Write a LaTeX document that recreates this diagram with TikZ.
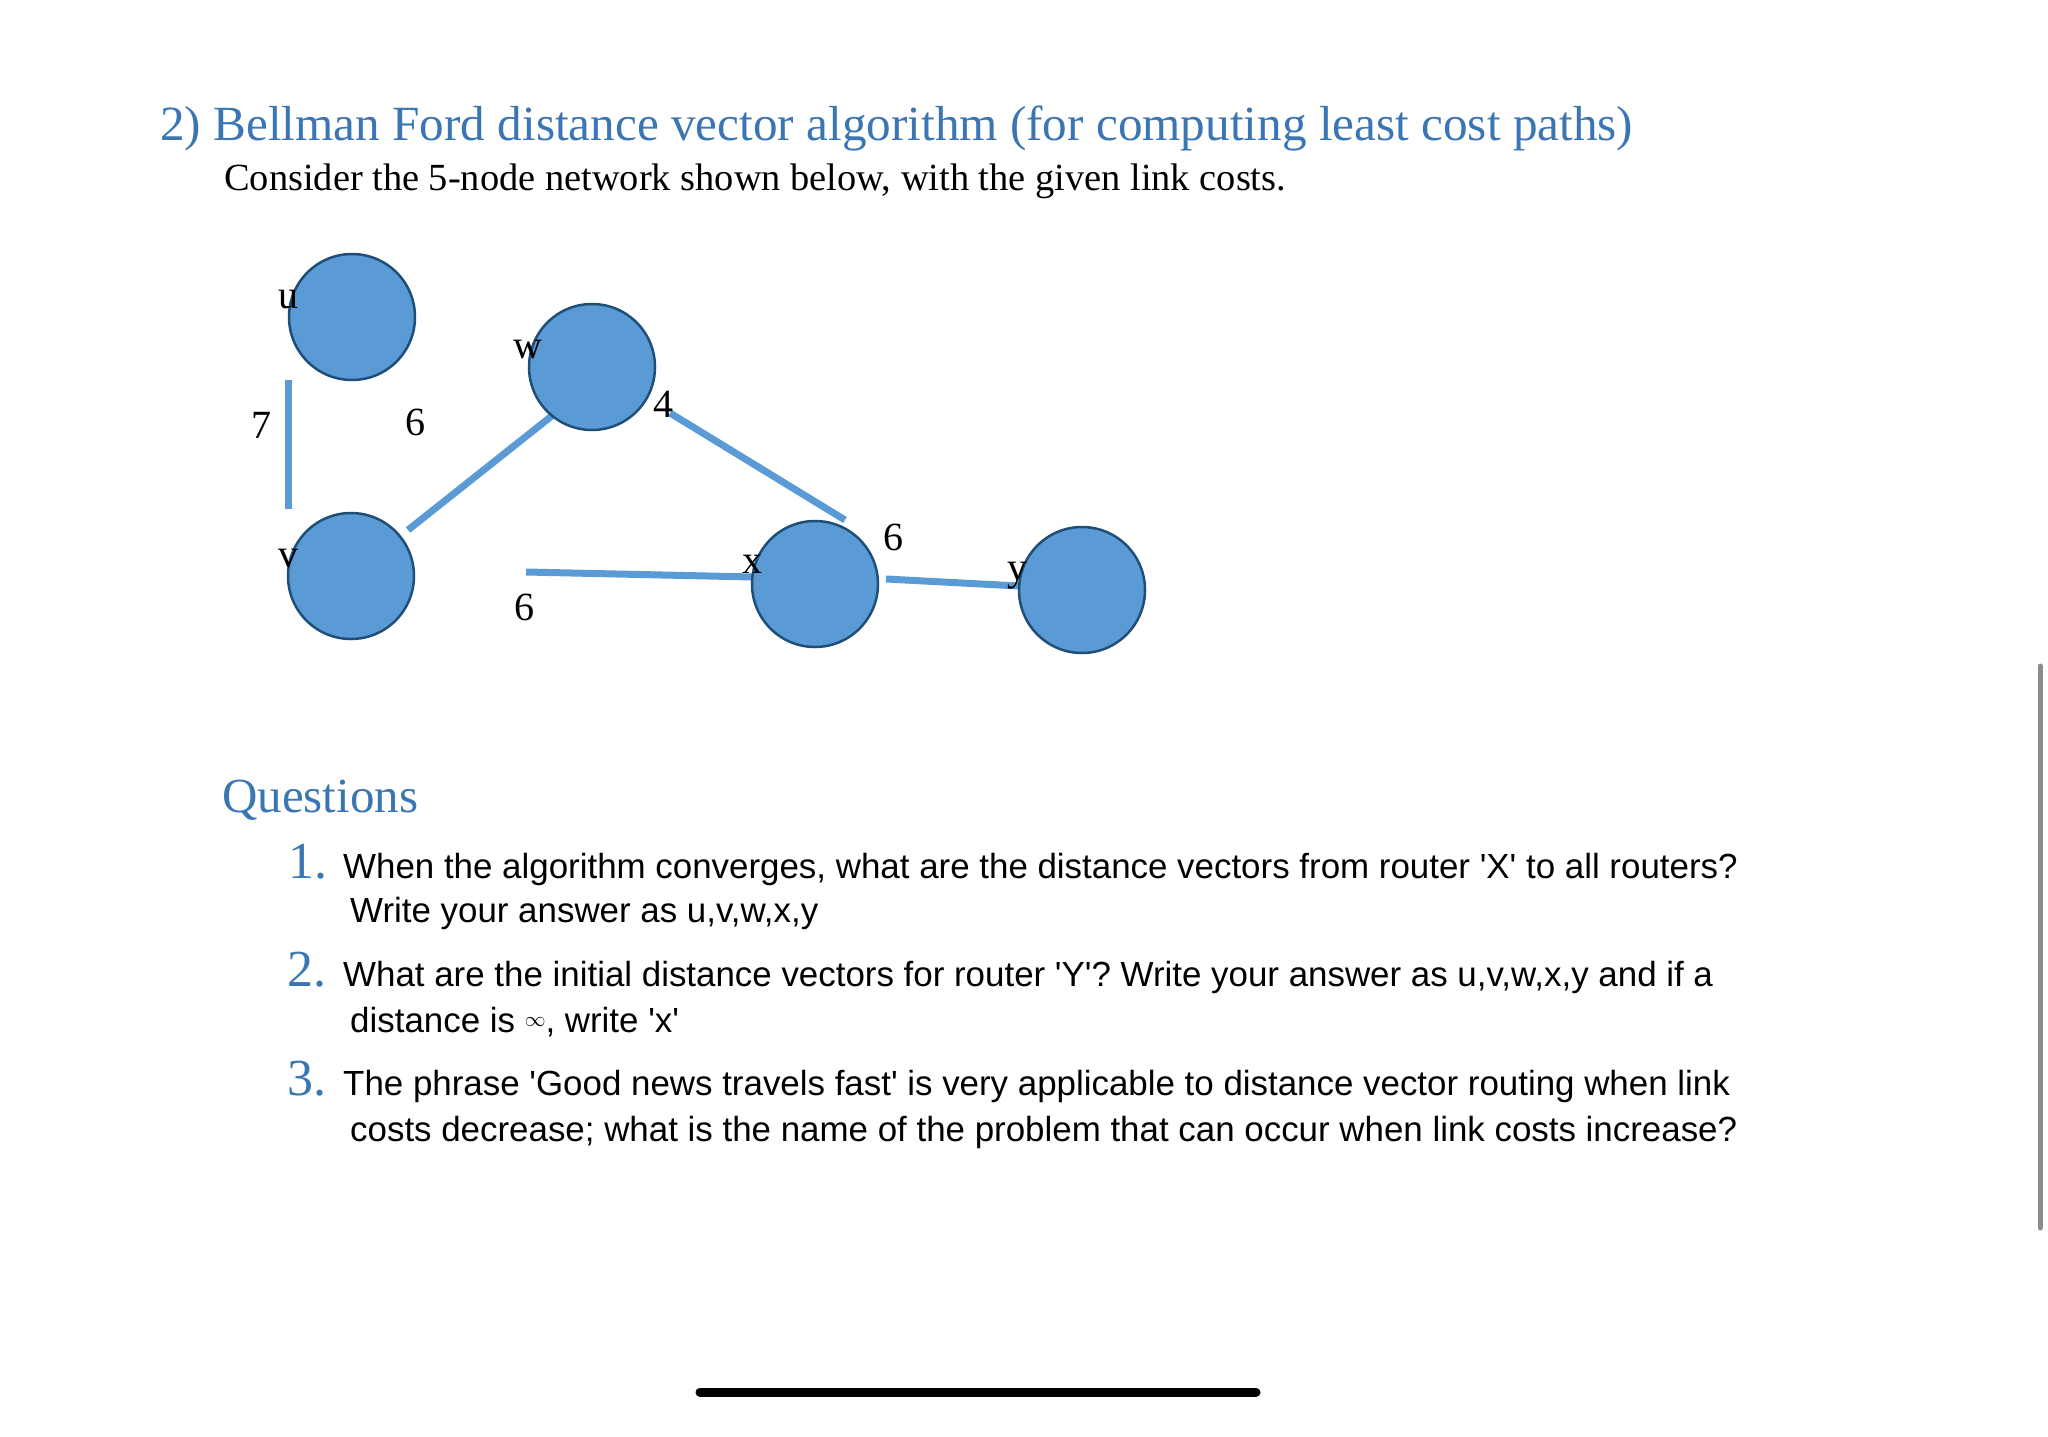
\documentclass[tikz,border=0pt]{standalone}
\usepackage{fontspec}
\setmainfont{Liberation Serif}
\newfontfamily\arialf{Liberation Sans}
\definecolor{hblue}{HTML}{3A76B3}
\definecolor{nfill}{HTML}{5B9BD5}
\definecolor{nline}{HTML}{1F4E79}
\definecolor{lblue}{HTML}{5B9BD5}
\tikzset{
  netnode/.style={circle, minimum size=126pt, inner sep=0pt, fill=nfill, draw=nline, line width=2.5pt},
  link/.style={draw=lblue, line width=7pt},
  lbl/.style={anchor=base, inner sep=0pt, font=\fontsize{40}{48}\selectfont},
  txt/.style={anchor=base west, inner sep=0pt},
  qnum/.style={anchor=base west, inner sep=0pt, text=hblue, font=\fontsize{52}{60}\selectfont},
  qtxt/.style={anchor=base west, inner sep=0pt, font=\arialf\fontsize{34.9}{40}\selectfont},
}
\begin{document}
\begin{tikzpicture}[x=1pt,y=-1pt]
\useasboundingbox[fill=white] (0,0) rectangle (2048,1437);
% title
\node[txt, text=hblue, font=\fontsize{49.2}{60}\selectfont] (title) at (160,140) {2) Bellman Ford distance vector algorithm (for computing least cost paths)};
\node[txt, font=\fontsize{38.4}{44}\selectfont] (sub) at (224,190) {Consider the 5-node network shown below, with the given link costs.};
% link end points
\coordinate (uvA) at (288,380); \coordinate (uvB) at (288,509);
\coordinate (vwA) at (408,530); \coordinate (vwB) at (553,415);
\coordinate (wxA) at (670,413); \coordinate (wxB) at (845,520);
\coordinate (vxA) at (526,572); \coordinate (vxB) at (753,577);
\coordinate (xyA) at (886,579); \coordinate (xyB) at (1019,586);
\draw[link] (uvA) -- (uvB);
\draw[link] (vwA) -- (vwB);
\draw[link] (wxA) -- (wxB);
\draw[link] (vxA) -- (vxB);
\draw[link] (xyA) -- (xyB);
% nodes
\node[netnode] (u) at (352,317) {};
\node[netnode] (w) at (592,367) {};
\node[netnode] (v) at (351,576) {};
\node[netnode] (x) at (815,584) {};
\node[netnode] (y) at (1082,590) {};
% labels
\node[lbl] (lu) at (288,308) {u};
\node[lbl] (lw) at (528,358) {w};
\node[lbl] (lv) at (288,567) {v};
\node[lbl] (lx) at (752,573) {x};
\node[lbl] (ly) at (1017,580) {y};
\node[lbl] (c7) at (261,438) {7};
\node[lbl] (c6a) at (415,435) {6};
\node[lbl] (c4) at (663,417) {4};
\node[lbl] (c6b) at (524,620) {6};
\node[lbl] (c6c) at (893,550) {6};
% questions
\node[txt, text=hblue, font=\fontsize{49}{58}\selectfont] (qh) at (222,812) {Questions};
\node[qnum] (n1) at (288,878) {1.};
\node[qtxt] (q1a) at (343,878) {When the algorithm converges, what are the distance vectors from router 'X' to all routers?};
\node[qtxt] (q1b) at (350,922) {Write your answer as u,v,w,x,y};
\node[qnum] (n2) at (287,986) {2.};
\node[qtxt] (q2a) at (343,986) {What are the initial distance vectors for router 'Y'? Write your answer as u,v,w,x,y and if a};
\node[qtxt] (q2b) at (350,1032) {distance is \raisebox{6pt}{\fontsize{22}{26}\selectfont$\infty$}, write 'x'};
\node[qnum] (n3) at (287,1095) {3.};
\node[qtxt] (q3a) at (343,1095) {The phrase 'Good news travels fast' is very applicable to distance vector routing when link};
\node[qtxt] (q3b) at (350,1141) {costs decrease; what is the name of the problem that can occur when link costs increase?};
% scrollbar and home indicator
\coordinate (sbA) at (2040,666); \coordinate (sbB) at (2040,1228);
\draw[draw=gray!90, line width=5pt, line cap=round] (sbA) -- (sbB);
\coordinate (hiA) at (700,1392); \coordinate (hiB) at (1256,1392);
\draw[black, line width=9pt, line cap=round] (hiA) -- (hiB);
\end{tikzpicture}
\end{document}
